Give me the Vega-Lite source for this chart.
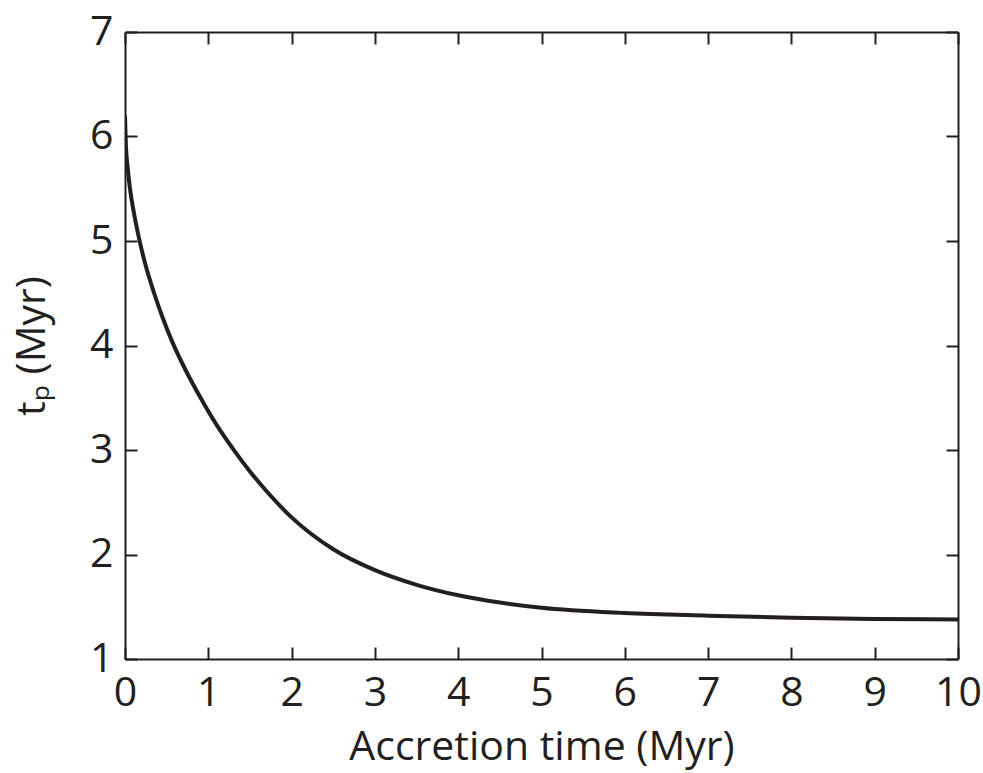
{
  "$schema": "https://vega.github.io/schema/vega-lite/v6.json",
  "width": 833,
  "height": 627,
  "autosize": {"type": "none"},
  "padding": {"left": 125, "top": 32, "right": 25, "bottom": 114},
  "background": "white",
  "config": {
    "view": {"stroke": null},
    "font": "Open Sans",
    "axis": {
      "domainColor": "#231f20",
      "domainWidth": 2,
      "tickColor": "#231f20",
      "tickWidth": 2,
      "tickSize": -12,
      "grid": false,
      "labelFont": "Open Sans",
      "labelFontSize": 41,
      "labelColor": "#231f20",
      "titleFont": "Open Sans, DejaVu Sans",
      "titleFontSize": 41,
      "titleFontWeight": "normal",
      "titleColor": "#231f20"
    }
  },
  "data": {
    "values": [
      {"t": 0, "tp": 6.2},
      {"t": 0.01, "tp": 5.93},
      {"t": 0.03, "tp": 5.72},
      {"t": 0.06, "tp": 5.5},
      {"t": 0.1, "tp": 5.3},
      {"t": 0.17, "tp": 5.02},
      {"t": 0.25, "tp": 4.76},
      {"t": 0.35, "tp": 4.5},
      {"t": 0.45, "tp": 4.27},
      {"t": 0.57, "tp": 4.03},
      {"t": 0.75, "tp": 3.73},
      {"t": 0.9, "tp": 3.51},
      {"t": 1.1, "tp": 3.24},
      {"t": 1.32, "tp": 2.985},
      {"t": 1.5, "tp": 2.795},
      {"t": 1.7, "tp": 2.605},
      {"t": 2.0, "tp": 2.355},
      {"t": 2.5, "tp": 2.05},
      {"t": 3.0, "tp": 1.85},
      {"t": 3.5, "tp": 1.71},
      {"t": 4.0, "tp": 1.61},
      {"t": 4.5, "tp": 1.54},
      {"t": 5.0, "tp": 1.49},
      {"t": 6.0, "tp": 1.44},
      {"t": 7.0, "tp": 1.415},
      {"t": 8.0, "tp": 1.395},
      {"t": 9.0, "tp": 1.383},
      {"t": 10, "tp": 1.378}
    ]
  },
  "layer": [
    {
      "mark": {"type": "line", "color": "#231f20", "strokeWidth": 4, "interpolate": "monotone", "clip": true},
      "encoding": {
        "x": {
          "field": "t", "type": "quantitative",
          "scale": {"domain": [0, 10], "nice": false, "zero": false},
          "axis": {"orient": "bottom", "values": [0,1,2,3,4,5,6,7,8,9,10], "format": "d", "labelPadding": 26, "title": "Accretion time (Myr)", "titlePadding": 14, "labelFlush": false, "labelOverlap": false}
        },
        "y": {
          "field": "tp", "type": "quantitative",
          "scale": {"domain": [1, 7], "nice": false, "zero": false},
          "axis": {"orient": "left", "values": [1,2,3,4,5,6,7], "format": "d", "labelPadding": 24, "title": "tₚ (Myr)", "titlePadding": 36, "labelFlush": false, "labelOverlap": false}
        }
      }
    },
    {
      "mark": {"type": "line", "opacity": 0},
      "encoding": {
        "x": {
          "field": "t", "type": "quantitative",
          "scale": {"domain": [0, 10], "nice": false, "zero": false},
          "axis": {"orient": "top", "values": [0,1,2,3,4,5,6,7,8,9,10], "labels": false, "title": null}
        },
        "y": {
          "field": "tp", "type": "quantitative",
          "scale": {"domain": [1, 7], "nice": false, "zero": false},
          "axis": {"orient": "right", "values": [1,2,3,4,5,6,7], "labels": false, "title": null}
        }
      }
    }
  ],
  "resolve": {"scale": {"x": "independent", "y": "independent"}}
}
